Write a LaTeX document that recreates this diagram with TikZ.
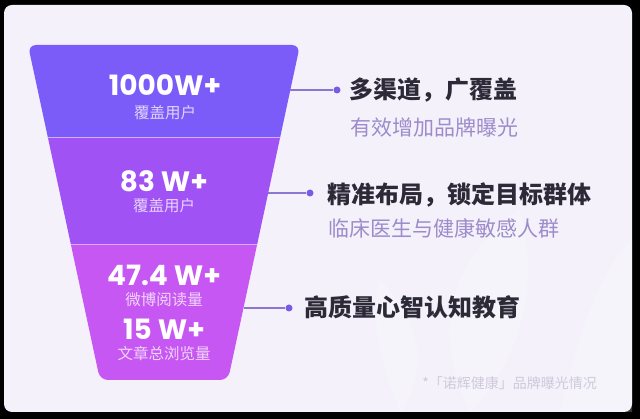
\documentclass[tikz,border=0pt]{standalone}
\usepackage{fontspec}
\newfontfamily\cjk{Noto Sans CJK SC}
\newfontfamily\numfont{Poppins}
\usetikzlibrary{positioning}
\definecolor{card}{HTML}{F4F1FB}
\definecolor{bandA}{HTML}{7C5CF8}
\definecolor{bandB}{HTML}{A052F5}
\definecolor{bandC}{HTML}{C657F2}
\definecolor{divline}{HTML}{D2AEFB}
\definecolor{linkcol}{HTML}{8C76D2}
\definecolor{dotcol}{HTML}{7A5BE3}
\definecolor{headcol}{HTML}{2D2A38}
\definecolor{subcol}{HTML}{9D8BCB}
\definecolor{notecol}{HTML}{CFC9DC}
\tikzset{
  num/.style={inner sep=0pt, text=white, font=\numfont\bfseries\fontsize{28}{30}\selectfont},
  numsub/.style={inner sep=0pt, text=white, text opacity=0.75, font=\cjk\fontsize{15.5}{17}\selectfont},
  head/.style={inner sep=0pt, anchor=west, text=headcol, font=\cjk\bfseries\fontsize{24}{28}\selectfont},
  subhead/.style={inner sep=0pt, anchor=west, text=subcol, font=\cjk\fontsize{21}{24}\selectfont},
  dot/.style={circle, fill=dotcol, minimum size=7pt, inner sep=0pt},
  link/.style={draw=linkcol, line width=1.1pt},
  petal/.style={fill=white, opacity=0.22}
}
\begin{document}
\begin{tikzpicture}[x=1pt, y=-1pt]
\useasboundingbox (0,0) rectangle (640,419);
\fill[black] (0,0) rectangle (640,419);
\fill[card, rounded corners=8pt] (4,5) rectangle (632,412);
% faint lotus in the background
\fill[petal] (470,412) .. controls (430,330) and (450,260) .. (520,210) .. controls (540,290) and (520,360) .. (470,412) -- cycle;
\fill[petal] (560,412) .. controls (580,330) and (600,270) .. (632,240) -- (632,412) -- cycle;
\fill[petal] (400,412) .. controls (380,360) and (370,320) .. (380,280) .. controls (420,320) and (430,370) .. (400,412) -- cycle;
% funnel
\begin{scope}
\clip[rounded corners=8pt] (28,45) -- (300,45) -- (228,380) -- (100,380) -- cycle;
\fill[bandA] (20,40) rectangle (310,138);
\fill[bandB] (20,138) rectangle (310,245);
\fill[bandC] (20,245) rectangle (310,390);
\draw[divline, line width=1pt] (20,138) -- (310,138);
\draw[divline, line width=1pt] (20,245) -- (310,245);
\end{scope}
\node[num] (n1) at (165,85) {1000W+};
\node[numsub] (s1) at (165,113) {覆盖用户};
\node[num] (n2) at (164,181) {83 W+};
\node[numsub] (s2) at (164,206) {覆盖用户};
\node[num] (n3) at (164,275) {47.4 W+};
\node[numsub] (s3) at (164,300) {微博阅读量};
\node[num] (n4) at (164,329) {15 W+};
\node[numsub] (s4) at (164,354) {文章总浏览量};
% edge points and dots
\coordinate (e1) at (290.3,90);
\coordinate (e2) at (268.2,193);
\coordinate (e3) at (243.5,308);
\node[dot] (d1) at (337,90) {};
\node[dot] (d2) at (310,193) {};
\node[dot] (d3) at (289,308) {};
\draw[link] (e1) -- (d1);
\draw[link] (e2) -- (d2);
\draw[link] (e3) -- (d3);
% right side texts
\node[head] (h1) at (349,90) {多渠道，广覆盖};
\node[subhead] (t1) at (350,128) {有效增加品牌曝光};
\node[head] (h2) at (327,195) {精准布局，锁定目标群体};
\node[subhead] (t2) at (328,228) {临床医生与健康敏感人群};
\node[head] (h3) at (304,307) {高质量心智认知教育};
\node[inner sep=0pt, anchor=east, text=notecol, font=\cjk\fontsize{14}{16}\selectfont] (note) at (597,383) {*「诺辉健康」品牌曝光情况};
\end{tikzpicture}
\end{document}
